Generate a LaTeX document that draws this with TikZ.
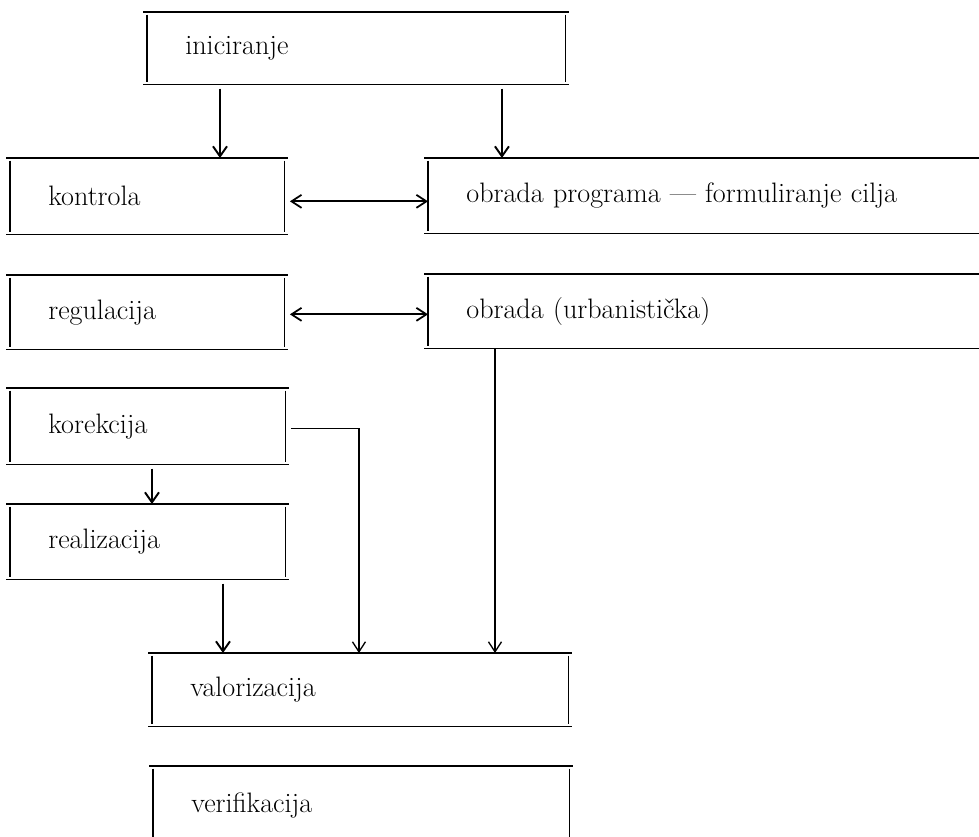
\documentclass[tikz,border=0pt]{standalone}
\usetikzlibrary{arrows.meta}
\tikzset{
  okvir/.style={anchor=north west, inner xsep=0.76cm, inner ysep=0pt, align=left,
    text width=#1, font=\fontsize{16}{19}\selectfont},
  linija/.style={line width=0.7pt},
  strelica/.style={line width=1.1pt, -{Straight Barb[length=0.2cm,width=0.28cm]}},
  tanka/.style={line width=0.75pt, -{Straight Barb[length=0.2cm,width=0.26cm]}},
  obostrana/.style={line width=1pt,
    {Straight Barb[length=0.2cm,width=0.26cm]}-{Straight Barb[length=0.2cm,width=0.26cm]}}
}
\begin{document}
\begin{tikzpicture}[x=0.02cm,y=-0.02cm]
  \useasboundingbox (0,0) rectangle (979,837);
  % boxes
  \node[okvir=6.84cm, minimum height=1.44cm] (inic) at (147,12) {iniciranje};
  \node[okvir=3.96cm, minimum height=1.52cm] (kontrola) at (10,158) {kontrola};
  \node[okvir=9.68cm, minimum height=1.5cm] (program) at (428,158) {obrada programa --- formuliranje cilja};
  \node[okvir=3.96cm, minimum height=1.48cm] (regulacija) at (10,275) {regulacija};
  \node[okvir=9.68cm, minimum height=1.48cm] (urbanisticka) at (428,274) {obrada (urbanistička)};
  \node[okvir=3.98cm, minimum height=1.52cm] (korekcija) at (10,388) {korekcija};
  \node[okvir=3.98cm, minimum height=1.5cm] (realizacija) at (10,504) {realizacija};
  \node[okvir=6.8cm, minimum height=1.46cm] (valorizacija) at (152,653) {valorizacija};
  \node[okvir=6.8cm, minimum height=1.56cm] (verifikacija) at (153,766) {verifikacija};
  % frames
  \foreach \n in {inic,kontrola,regulacija,korekcija,realizacija,valorizacija,verifikacija}{
    \draw[linija] ([xshift=-2pt]\n.north west) -- ([xshift=2pt]\n.north east)
      ([xshift=-2pt]\n.south west) -- ([xshift=2pt]\n.south east);
    \draw[linija] ([yshift=-1.5pt]\n.north west) -- ([yshift=1.5pt]\n.south west)
      ([yshift=-1.5pt]\n.north east) -- ([yshift=1.5pt]\n.south east);
  }
  \foreach \n in {program,urbanisticka}{
    \draw[linija] ([xshift=-2pt]\n.north west) -- (\n.north east)
      ([xshift=-2pt]\n.south west) -- (\n.south east);
    \draw[linija] ([yshift=-1.5pt]\n.north west) -- ([yshift=1.5pt]\n.south west);
  }
  % arrows
  \coordinate (a1) at ([xshift=1.46cm,yshift=-0.08cm]inic.south west);
  \coordinate (a2) at ([xshift=7.1cm,yshift=-0.08cm]inic.south west);
  \draw[strelica] (a1) -- (a1 |- kontrola.north);
  \draw[strelica] (a2) -- (a2 |- program.north);
  \draw[obostrana, shorten <=3pt] ([yshift=-0.1cm]kontrola.east) -- ([yshift=-0.1cm]kontrola.east -| program.west);
  \draw[obostrana, shorten <=3pt] ([yshift=-0.04cm]regulacija.east) -- ([yshift=-0.04cm]regulacija.east -| urbanisticka.west);
  \coordinate (a3) at ([xshift=2.84cm,yshift=-0.08cm]korekcija.south west);
  \draw[strelica] (a3) -- (a3 |- realizacija.north);
  \coordinate (a4) at ([xshift=1.42cm,yshift=-0.08cm]realizacija.south west -| valorizacija.west);
  \draw[strelica] (a4) -- (a4 |- valorizacija.north);
  \coordinate (v2) at ([xshift=4.14cm]valorizacija.north west);
  \draw[tanka, shorten <=3pt] ([yshift=-0.04cm]korekcija.east) -| (v2);
  \coordinate (a5) at ([xshift=1.34cm]urbanisticka.south west);
  \draw[tanka] (a5) -- (a5 |- valorizacija.north);
\end{tikzpicture}
\end{document}
